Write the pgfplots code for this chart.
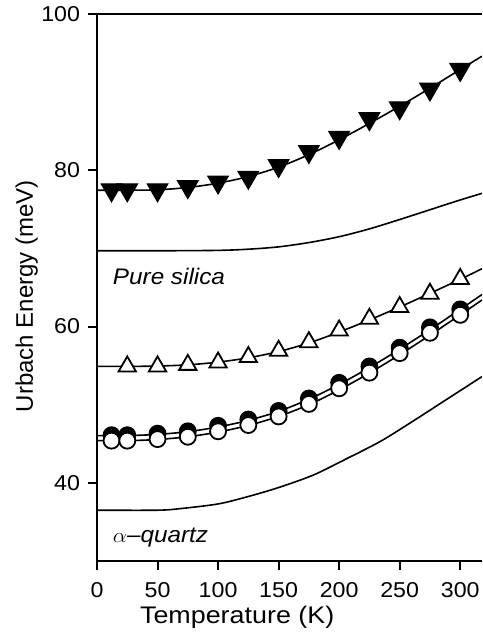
\documentclass[border=0pt]{standalone}
\usepackage{fontspec}
\setmainfont{Liberation Sans}
\usepackage{pgfplots}
\pgfplotsset{compat=1.18}

% measured data (Urbach energy, meV)
\pgfplotstableread{
T    dtri  otri  fcirc ocirc
12   77.5  nan   46.1  45.4
25   77.5  54.9  46.1  45.4
50   77.5  54.9  46.3  45.6
75   77.9  55.1  46.6  45.9
100  78.5  55.4  47.3  46.6
125  79.1  56.1  48.1  47.4
150  80.6  56.9  49.2  48.5
175  82.4  58.0  50.8  50.1
200  84.2  59.5  52.8  52.1
225  86.6  61.0  54.9  54.1
250  88.0  62.5  57.3  56.6
275  90.4  64.2  59.9  59.2
300  92.9  66.1  62.2  61.5
}\data

\begin{document}
\fontsize{21.5}{25}\selectfont
\begin{tikzpicture}
\begin{axis}[
  scale only axis,
  width=385pt, height=547pt,
  xmin=0, xmax=318, ymin=30, ymax=100,
  axis x line=box, axis y line=left,
  axis line style={-, line width=2pt},
  xtick={0,50,100,150,200,250,300},
  ytick={40,60,80,100},
  xtick pos=left, ytick pos=left,
  tick align=outside,
  major tick length=9pt,
  tick style={line width=2pt, black},
  xticklabel style={yshift=-5pt, xscale=1.08},
  yticklabel style={xscale=1.08},
  /pgf/number format/assume math mode=true,
  xlabel={Temperature (K)},
  ylabel={Urbach Energy (meV)},
  xlabel style={font=\fontsize{24}{28}\selectfont, at={(axis description cs:0.364,0)}, anchor=base, yshift=-62pt, xscale=1.12},
  ylabel style={font=\fontsize{24}{28}\selectfont, at={(axis description cs:0,0.484)}, anchor=base, rotate=0, yshift=64pt},
  every axis plot/.append style={line width=1.6pt, black},
]
\coordinate (sw) at (rel axis cs:0,0);
\coordinate (ne) at (rel axis cs:1,1);

% fitted curves
\addplot[smooth, no marks] coordinates {
  (0,69.7) (50,69.7) (100,69.75) (125,69.9) (150,70.2) (175,70.75) (200,71.5)
  (225,72.5) (250,73.7) (275,74.95) (300,76.2) (318,77.05)};
\addplot[smooth, no marks] coordinates {
  (0,36.5) (50,36.5) (68.6,36.7) (100,37.3) (123.7,38.2) (150,39.4)
  (178.7,41.0) (205,43.0) (234,45.3) (260,47.8) (289,50.7) (318,53.6)};
\addplot[smooth, no marks] coordinates {
  (0,77.45) (25,77.45) (50,77.5) (75,77.8) (100,78.35) (125,79.2) (150,80.4)
  (175,82.0) (200,83.9) (225,86.0) (250,88.2) (275,90.5) (300,92.9) (318,94.6)};
\addplot[smooth, no marks] coordinates {
  (0,54.9) (25,54.9) (50,54.95) (75,55.1) (100,55.45) (125,56.0) (150,56.8)
  (175,57.9) (200,59.3) (225,60.85) (250,62.5) (275,64.25) (300,66.05) (318,67.4)};
\addplot[smooth, no marks] coordinates {
  (0,46.05) (25,46.05) (50,46.2) (75,46.55) (100,47.15) (125,48.0) (150,49.15)
  (175,50.7) (200,52.6) (225,54.75) (250,57.1) (275,59.6) (300,62.2) (318,64.1)};
\addplot[smooth, no marks] coordinates {
  (0,45.4) (25,45.4) (50,45.55) (75,45.9) (100,46.5) (125,47.35) (150,48.5)
  (175,50.0) (200,51.9) (225,54.05) (250,56.4) (275,58.9) (300,61.5) (318,63.4)};

% data points
\addplot[only marks, mark=*, mark size=8pt, mark options={fill=black, line width=1.8pt}] table[x=T, y=fcirc] {\data};
\addplot[only marks, mark=*, mark size=8pt, mark options={fill=white, line width=1.8pt}] table[x=T, y=ocirc] {\data};
\addplot[only marks, mark=triangle*, mark size=10pt, mark options={fill=white, line width=1.8pt}] table[x=T, y=otri] {\data};
\addplot[only marks, mark=triangle*, mark size=12pt, mark options={fill=black, rotate=180, line width=1pt}] table[x=T, y=dtri] {\data};

\node[anchor=base west, font=\fontsize{22.5}{26}\selectfont\itshape, xscale=1.08] at (axis cs:6.6,65.4) {Pure silica};
\node[anchor=base west, font=\fontsize{22.5}{26}\selectfont, xscale=1.08] at (axis cs:6.6,32.4) {$\alpha$\textit{--quartz}};
\end{axis}
\pgfresetboundingbox
\path[use as bounding box] ([shift={(-97pt,-72pt)}]sw) rectangle ([shift={(0pt,14pt)}]ne);
\end{tikzpicture}
\end{document}
